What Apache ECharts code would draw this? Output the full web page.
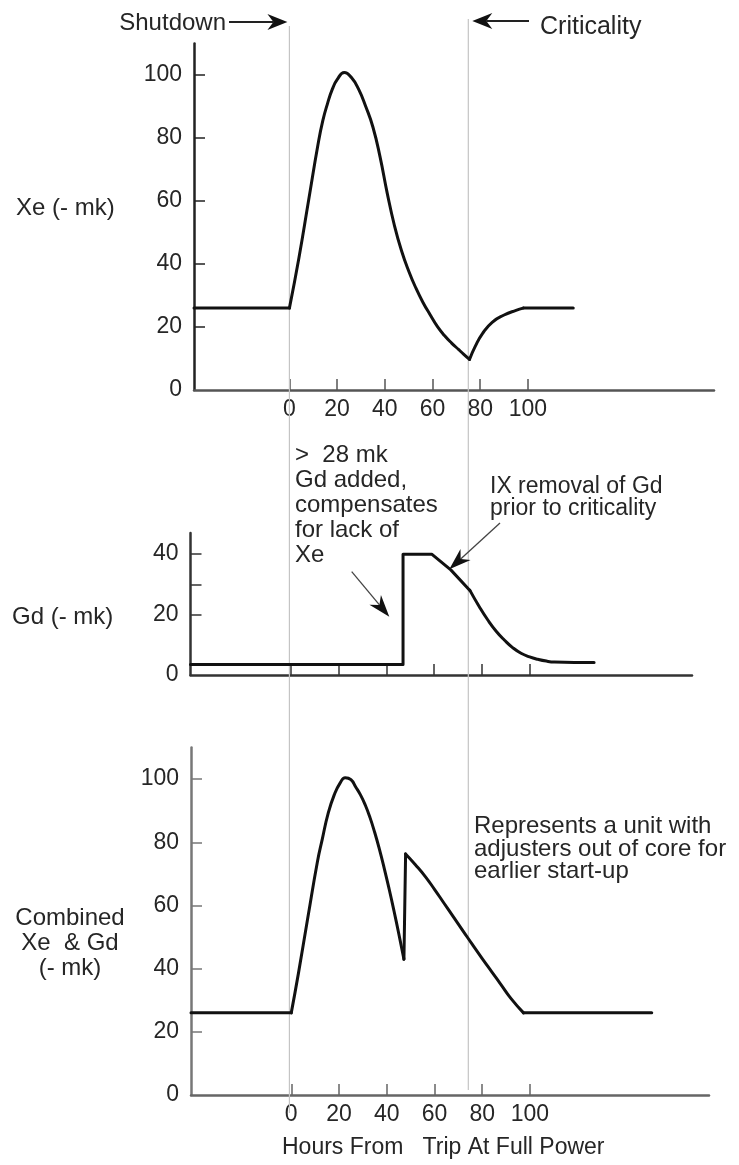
<!DOCTYPE html>
<html>
<head>
<meta charset="utf-8">
<title>Xe and Gd after trip</title>
<script src="https://cdn.jsdelivr.net/npm/echarts/dist/echarts.min.js"></script>
<style>
  html, body { margin: 0; padding: 0; background: #fff; }
  #chart { width: 739px; height: 1165px; }
</style>
</head>
<body>
<div id="chart"></div>
<script>
// hours from trip (x) against negative reactivity in mk (y)
const hourTicks = [0, 20, 40, 60, 80, 100];
const mkTicks = [0, 20, 40, 60, 80, 100];
const mkMinorTicks = [20, 40, 60, 80, 100];
const gdLabels = [0, 20, 40];
const gdMinorTicks = [20, 30, 40];

const shutdownHour = 0;
const criticalityHour = 75;

// Xe curve, split where the picture has sharp corners
const xeBefore = [[-40, 26], [0, 26]];
const xeTransient = [[0, 26], [4, 42], [8, 60], [12, 78], [14, 85.5], [16, 91], [18, 95.5], [20, 98.5],
  [23, 100.8], [26, 99.2], [29, 95.5], [32, 90], [35, 83.5], [38, 74], [41, 62.5], [44, 52.3], [47, 44.2],
  [50, 37.8], [53, 32.4], [56, 27.8], [59, 23.9], [62, 20.2], [65, 17.3], [68, 14.9], [71, 12.8],
  [73, 11.4], [75.5, 9.7]];
const xeRecovery = [[75.5, 9.7], [78, 14], [81, 18], [85, 21.5], [90, 23.8], [95, 25.3], [98, 26]];
const xeAfter = [[98, 26], [119, 26]];

// Gd curve
const gdBefore = [[-42, 3.5], [47, 3.5], [47, 40], [59, 40], [67, 34.8], [75, 28]];
const gdRemoval = [[75, 28], [79, 22.5], [82.5, 18.2], [86, 14.5], [89.4, 11.6], [93, 9], [96.4, 7.2],
  [100, 6], [103.4, 5.2], [107, 4.6], [110.4, 4.3], [127, 4.1]];

// combined Xe + Gd curve
const combBefore = [[-42, 26], [0, 26]];
const combTransient = [[0, 26], [3, 38.5], [7, 56.4], [11, 74], [13, 81], [15.4, 89], [18, 95],
  [20.5, 98.8], [22.6, 100.4], [25, 99.8], [27, 97.5], [29, 95], [31, 91.8], [33, 87.8], [35, 83],
  [37, 77.6], [39, 71.6], [41, 65.2], [43, 58.4], [45, 51.2], [47.2, 43]];
const combJump = [[47.2, 43], [47.9, 76.3]];
const combDecline = [[47.9, 76.3], [52, 72.9], [56, 69.3], [60, 65.1], [64, 60.7], [68, 56.3], [72, 51.9],
  [76, 47.5], [80, 43.2], [84, 39], [88, 34.8], [92, 30.6], [97.3, 26]];
const combAfter = [[97.3, 26], [151, 26]];

const FONT = 'Liberation Sans, Arial, sans-serif';
const TXT = '#262626';

let chart = echarts.init(document.getElementById('chart'), null, {renderer: 'canvas'});

function seg (data, idx, smooth) {
  return {
    type: 'line', xAxisIndex: idx, yAxisIndex: idx, data: data,
    smooth: smooth || false, symbol: 'none', silent: true, clip: false,
    lineStyle: {color: '#111', width: 3, cap: 'round', join: 'round'}
  };
}

function xAxisFor (idx, min, max, showLabels, color) {
  return {
    type: 'value', gridIndex: idx, min: min, max: max,
    axisLine: {show: true, onZero: false, lineStyle: {color: color, width: 2.5}},
    axisTick: {show: true, inside: true, length: 11, customValues: hourTicks, lineStyle: {color: color, width: 1.5}},
    axisLabel: {show: showLabels, customValues: hourTicks, margin: 8, fontSize: 23, fontFamily: FONT, color: TXT},
    splitLine: {show: false}
  };
}

function yAxisFor (idx, max, labels, ticks, color) {
  return {
    type: 'value', gridIndex: idx, min: 0, max: max,
    axisLine: {show: true, onZero: false, lineStyle: {color: color, width: 2.5}},
    axisTick: {show: true, inside: true, length: 11, customValues: ticks, lineStyle: {color: color, width: 1.5}},
    axisLabel: {show: true, customValues: labels, margin: 12, fontSize: 23, fontFamily: FONT, color: TXT},
    splitLine: {show: false}
  };
}

let option = {
  animation: false,
  backgroundColor: '#fff',
  grid: [
    {left: 194, right: 25, top: 43.5, bottom: 775},
    {left: 190.5, right: 47, top: 533, bottom: 490},
    {left: 191, right: 30, top: 747.5, bottom: 70}
  ],
  xAxis: [
    xAxisFor(0, -40, 178, true, '#555'),
    xAxisFor(1, -42, 168, false, '#333'),
    xAxisFor(2, -42, 175, true, '#666')
  ],
  yAxis: [
    yAxisFor(0, 110, mkTicks, mkMinorTicks, '#222'),
    yAxisFor(1, 47, gdLabels, gdMinorTicks, '#333'),
    yAxisFor(2, 110, mkTicks, mkMinorTicks, '#777')
  ],
  series: [
    seg(xeBefore, 0), seg(xeTransient, 0, 0.5), seg(xeRecovery, 0, 0.5), seg(xeAfter, 0),
    seg(gdBefore, 1), seg(gdRemoval, 1, 0.5),
    seg(combBefore, 2), seg(combTransient, 2, 0.5), seg(combJump, 2), seg(combDecline, 2, 0.5), seg(combAfter, 2)
  ]
};
chart.setOption(option);

// annotations
function label (x, y, text, align, vAlign, lineHeight, size) {
  return {
    type: 'text', x: x, y: y, z: 10, silent: true,
    style: {text: text, fill: TXT, fontSize: size || 24, fontFamily: FONT, align: align || 'left',
      verticalAlign: vAlign || 'middle', lineHeight: lineHeight || 25}
  };
}

function arrow (x1, y1, x2, y2, width, color, L, W) {
  let dx = x2 - x1, dy = y2 - y1, len = Math.sqrt(dx * dx + dy * dy);
  let ux = dx / len, uy = dy / len, px = -uy, py = ux;
  let bx = x2 - ux * L, by = y2 - uy * L;
  let nx = x2 - ux * L * 0.7, ny = y2 - uy * L * 0.7;
  return [
    {type: 'line', z: 10, silent: true, shape: {x1: x1, y1: y1, x2: nx, y2: ny},
      style: {stroke: color, lineWidth: width}},
    {type: 'polygon', z: 10, silent: true,
      shape: {points: [[x2, y2], [bx + px * W, by + py * W], [nx, ny], [bx - px * W, by - py * W]]},
      style: {fill: '#111'}}
  ];
}

let xShut = chart.convertToPixel({xAxisIndex: 0}, shutdownHour);
let xCrit = chart.convertToPixel({xAxisIndex: 0}, criticalityHour);

let graphic = [
  {type: 'line', z: 1, silent: true, shape: {x1: xShut, y1: 26, x2: xShut, y2: 1113}, style: {stroke: '#c4c4c4', lineWidth: 1.2}},
  {type: 'line', z: 1, silent: true, shape: {x1: xCrit, y1: 19, x2: xCrit, y2: 1090}, style: {stroke: '#c4c4c4', lineWidth: 1.2}},
  label(226, 23, 'Shutdown', 'right'),
  label(540, 27, 'Criticality', 'left', 'middle', 25, 25),
  label(16, 208, 'Xe (- mk)'),
  label(295, 442.5, '>  28 mk\nGd added,\ncompensates\nfor lack of\nXe', 'left', 'top', 25),
  label(490, 476, 'IX removal of Gd\nprior to criticality', 'left', 'top', 22, 23),
  label(12, 617, 'Gd (- mk)'),
  label(70, 905.5, 'Combined\nXe  & Gd\n(- mk)', 'center', 'top', 25),
  label(474, 815.5, 'Represents a unit with\nadjusters out of core for\nearlier start-up', 'left', 'top', 22.5),
  label(282, 1148, 'Hours From   Trip At Full Power', 'left', 'middle', 25, 23)
];
graphic = graphic.concat(
  arrow(229, 22, xShut - 2, 22, 2, '#222', 20, 8),
  arrow(529, 21, xCrit + 4, 21, 2, '#222', 20, 8),
  arrow(351.7, 571.7, 389.3, 616.7, 1.3, '#444', 22, 7.5),
  arrow(500, 523, 449.3, 569.3, 1.3, '#444', 22, 7.5)
);

chart.setOption({graphic: graphic});
</script>
</body>
</html>
